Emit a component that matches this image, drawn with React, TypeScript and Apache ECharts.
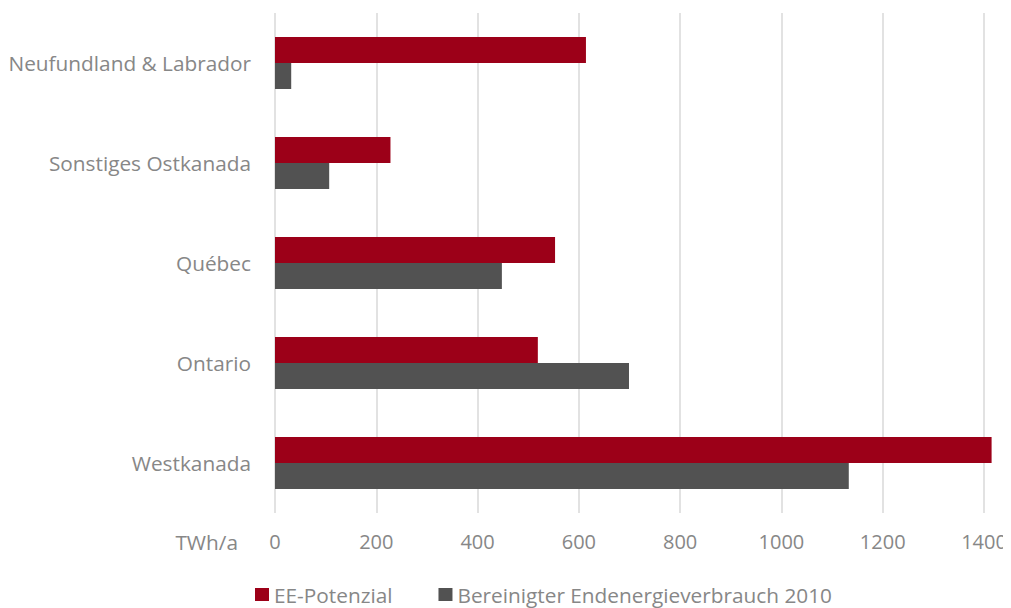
import React, { useEffect, useRef } from "react";
import * as echarts from "echarts";

const categories = [
  "Westkanada",
  "Ontario",
  "Québec",
  "Sonstiges Ostkanada",
  "Neufundland & Labrador",
];
const eePotenzial = [1415, 519, 553, 228, 614];
const endenergie = [1133, 699, 448, 107, 32];
const seriesNames = ["EE-Potenzial", "Bereinigter Endenergieverbrauch 2010"];
const axisUnit = "TWh/a";

const FONT = "'Open Sans', sans-serif";
const TEXT = "#878787";
const FS = 20;
const FS_L = 20.8;

export default function App() {
  const ref = useRef<HTMLDivElement>(null);
  useEffect(() => {
    if (!ref.current) return;
    const chart = echarts.init(ref.current, undefined, { renderer: "svg" });
    chart.setOption({
      animation: false,
      textStyle: { fontFamily: FONT },
      grid: { left: 275, right: 27, top: 13, bottom: 95, containLabel: false },
      legend: {
        top: 584,
        left: 255,
        padding: 0,
        icon: "rect",
        itemWidth: 14,
        itemHeight: 13,
        itemGap: 46,
        textStyle: { color: TEXT, fontSize: FS_L, fontFamily: FONT },
        data: seriesNames,
      },
      xAxis: {
        type: "value",
        min: 0,
        max: 1400,
        interval: 200,
        name: axisUnit,
        nameLocation: "start",
        nameGap: 37,
        nameTextStyle: {
          color: TEXT,
          fontSize: FS_L,
          fontFamily: FONT,
          verticalAlign: "top",
          padding: [18, 0, 0, 0],
        },
        axisLine: { show: false },
        axisTick: { show: false },
        axisLabel: {
          color: TEXT,
          fontSize: FS,
          margin: 18,
          fontFamily: FONT,
          formatter: (v: number) => String(v),
        },
        splitLine: { lineStyle: { color: "#d9d9d9", width: 1.5 } },
      },
      yAxis: {
        type: "category",
        data: categories,
        axisLine: { show: false },
        axisTick: { show: false },
        axisLabel: { color: TEXT, fontSize: FS_L, margin: 24, fontFamily: FONT },
        splitLine: { show: false },
      },
      series: [
        {
          name: seriesNames[0],
          type: "bar",
          data: eePotenzial,
          barWidth: 26,
          barGap: "0%",
          clip: false,
          itemStyle: { color: "#9c0018" },
        },
        {
          name: seriesNames[1],
          type: "bar",
          data: endenergie,
          barWidth: 26,
          barGap: "0%",
          clip: false,
          itemStyle: { color: "#525252" },
        },
      ],
    });
    return () => chart.dispose();
  }, []);
  return <div ref={ref} style={{ width: 1011, height: 608, marginLeft: -8, marginTop: -8 }} />;
}
